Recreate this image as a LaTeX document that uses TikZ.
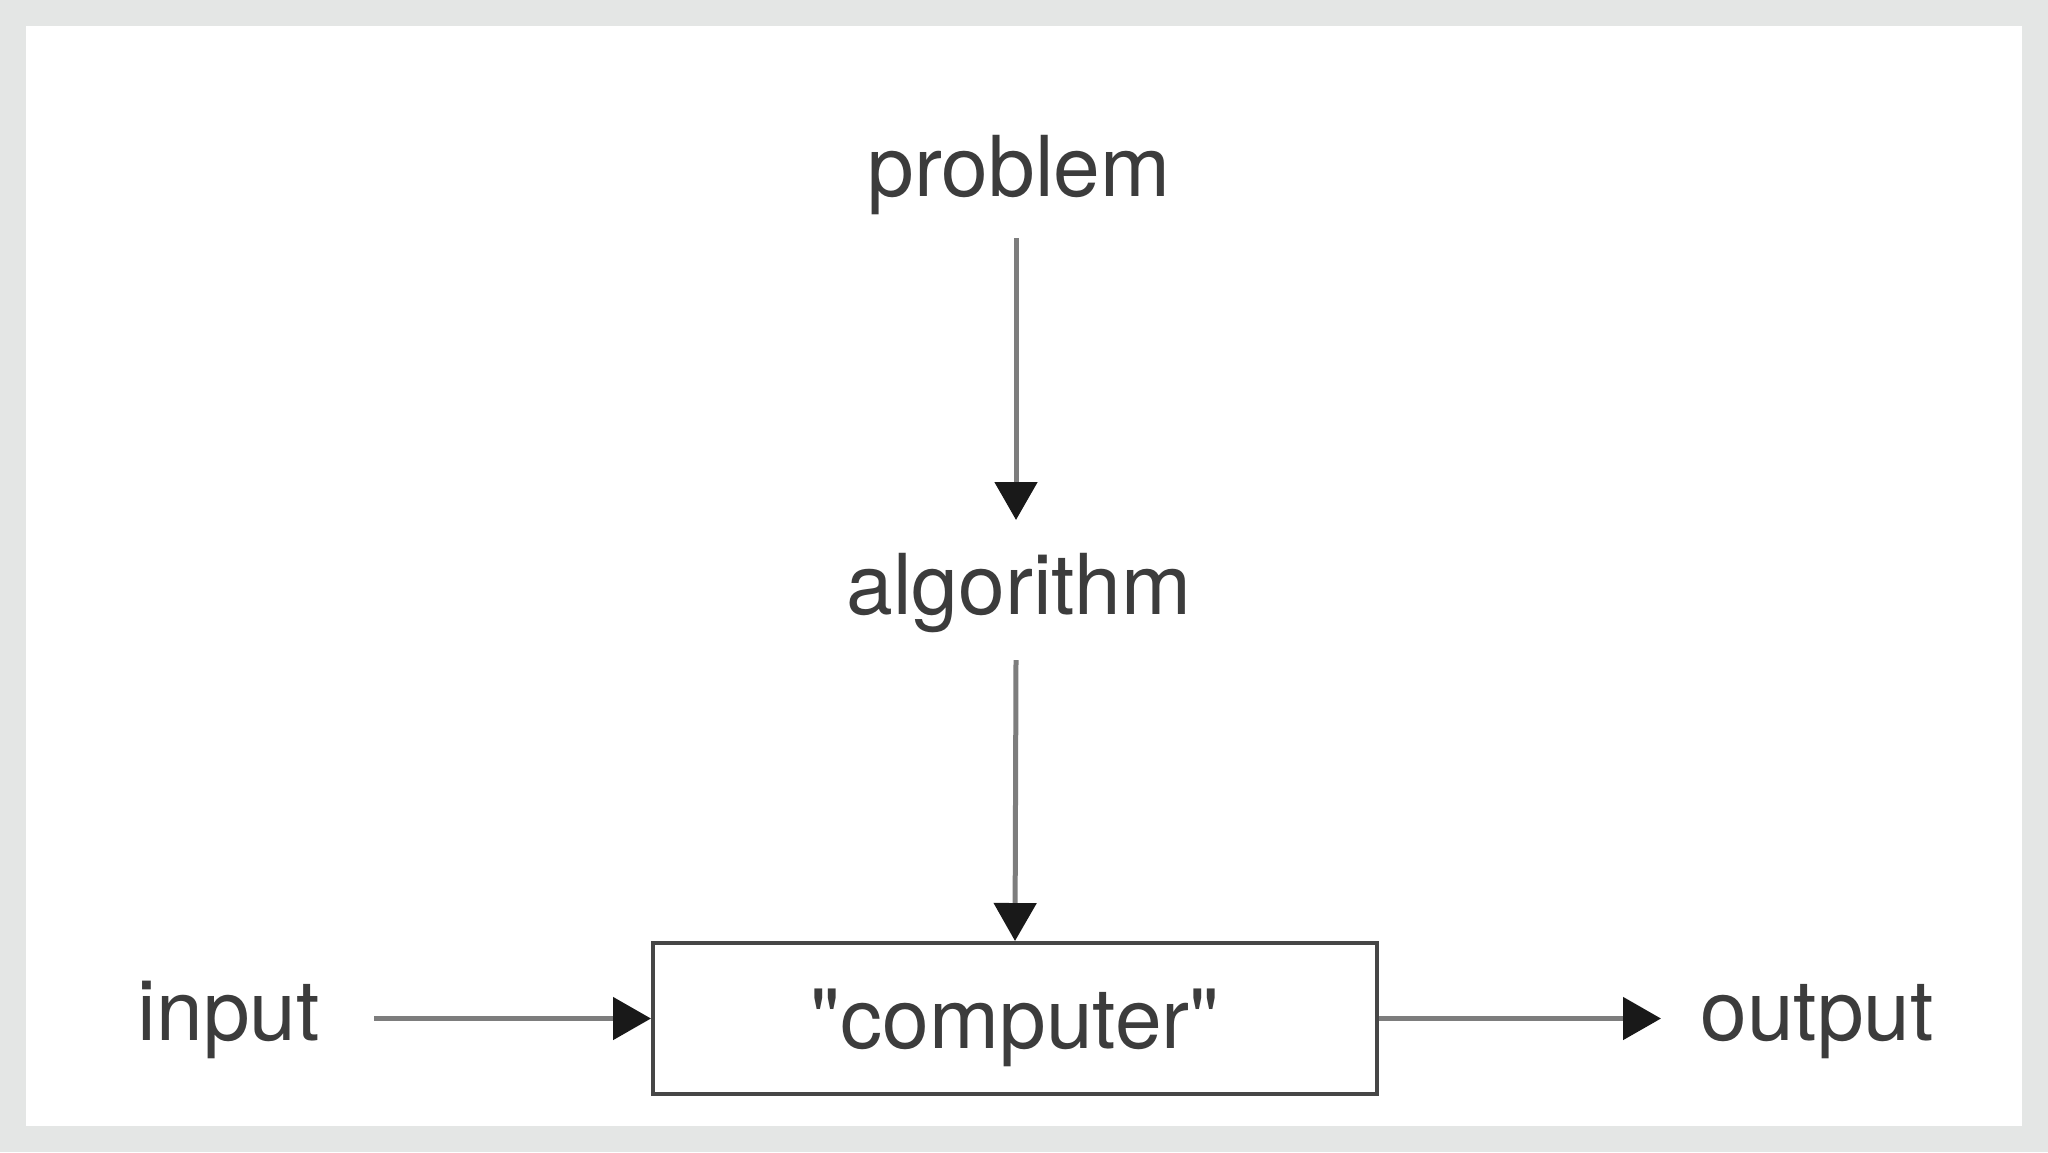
\documentclass[tikz,border=0pt]{standalone}
\usepackage{fontspec}
\setmainfont{TeX Gyre Heros}
\usetikzlibrary{arrows.meta,calc}
\definecolor{framegray}{RGB}{228,230,229}
\definecolor{txt}{RGB}{60,60,60}
\definecolor{linegray}{RGB}{125,125,125}
\definecolor{boxline}{RGB}{70,70,70}
\definecolor{headcol}{RGB}{25,25,25}
\begin{document}
\begin{tikzpicture}[x=0.5pt,y=-0.5pt,
  lbl/.style={font=\fontsize{42}{50}\selectfont, text=txt, inner sep=0pt},
  arr/.style={draw=linegray, line width=2.5pt,
    -{Triangle[length=19pt,width=21pt,color=headcol,fill=headcol]}},
  cbox/.style={draw=boxline, line width=2pt, minimum width=362pt,
    minimum height=75.5pt, inner sep=0pt, text height=31pt, text depth=1pt,
    font=\fontsize{42}{50}\selectfont, text=txt}]
\fill[framegray] (0,0) rectangle (2048,1152);
\fill[white] (26,26) rectangle (2022,1126);
\node[lbl, anchor=base] (problem) at (1019,196) {problem};
\node[lbl, anchor=base] (algorithm) at (1019,614) {algorithm};
\node[cbox] (computer) at (1015,1018.5) {\textquotedbl computer\textquotedbl};
\node[lbl, anchor=base west] (input) at (137,1040) {input};
\node[lbl, anchor=base west] (output) at (1700,1040) {output};
\draw[arr] ($(problem.base)+(-3,42)$) -- ($(algorithm.base)+(-3,-94)$);
\draw[arr] ($(algorithm.base)+(-3,46)$) -- (computer.north);
\draw[arr] ($(input.base east |- computer.west)+(54,0)$) -- (computer.west);
\draw[arr] (computer.east) -- ($(output.base west |- computer.east)+(-39,0)$);
\end{tikzpicture}
\end{document}
